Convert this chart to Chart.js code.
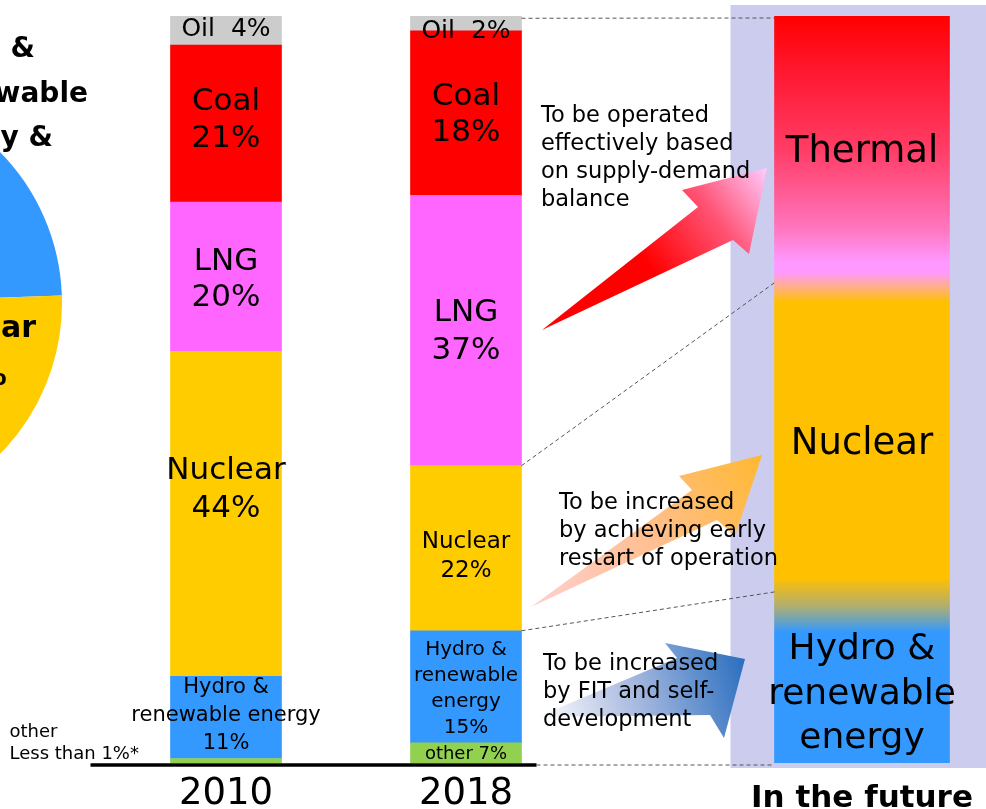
<!DOCTYPE html>
<html>
<head>
<meta charset="utf-8">
<script src="https://cdn.jsdelivr.net/npm/chart.js@4"></script>
<style>
  html, body { margin: 0; padding: 0; background: #fff; overflow: hidden; }
  #wrap { position: relative; width: 986px; height: 809px; overflow: hidden; }
  #mix { position: absolute; left: 0; top: 0; }
  #pie { position: absolute; left: -368px; top: 88px; }
</style>
</head>
<body>
<div id="wrap">
  <canvas id="mix" width="986" height="809"></canvas>
  <canvas id="pie" width="430" height="430"></canvas>
</div>
<script>
// ---- data ----
const categories = ['2010', '2018', 'In the future'];
const sources = ['other', 'Hydro & renewable energy', 'Nuclear', 'LNG', 'Coal', 'Oil'];
// share of each bar as drawn (bottom to top)
const share2010 = [0.6, 11.0, 43.5, 20.0, 21.0, 3.9];
const share2018 = [2.7, 15.0, 22.1, 36.2, 22.0, 2.1];
// percentages printed on the segments
const printed2010 = ['Less than 1', 11, 44, 20, 21, 4];
const printed2018 = [7, 15, 22, 37, 18, 2];
const futureSources = ['Hydro & renewable energy', 'Nuclear', 'Thermal'];
const futureShare = [22.9, 41.4, 35.7];
const pieLabels = ['Hydro & renewable energy', 'Nuclear', 'Thermal'];
const pieValues = [24, 22, 54];

// ---- look ----
const FONT = "'DejaVu Sans', Verdana, sans-serif";
const colors = ['#92d050', '#3399ff', '#ffcc00', '#ff66ff', '#ff0000', '#cccccc'];
const slotX = [0, 1, 2.65];

const lines2010 = [
  null,
  ['Hydro &', 'renewable energy', printed2010[1] + '%'],
  ['Nuclear', printed2010[2] + '%'],
  ['LNG', printed2010[3] + '%'],
  ['Coal', printed2010[4] + '%'],
  ['Oil  ' + printed2010[5] + '%']
];
const lines2018 = [
  ['other ' + printed2018[0] + '%'],
  ['Hydro &', 'renewable', 'energy', printed2018[1] + '%'],
  ['Nuclear', printed2018[2] + '%'],
  ['LNG', printed2018[3] + '%'],
  ['Coal', printed2018[4] + '%'],
  ['Oil  ' + printed2018[5] + '%']
];
// [font size, line height, y shift]
const fmt2010 = [null, [21, 28, -2], [31, 38, -24], [31, 36, 3], [31, 37, -3], [25, 25, -1]];
const fmt2018 = [[18, 20, 1], [20, 25.7, 2], [23, 29, 8], [31, 38, 1], [31, 36, 2], [25, 25, 8]];
const futureLines = [['Hydro &', 'renewable', 'energy'], ['Nuclear'], ['Thermal']];
const futureFmt = [[36, 44.5, 17], [37, 37, 7], [37, 37, 3]];

let futureGrad = null;
function futureFill(c) {
  const chart = c.chart;
  if (!chart.chartArea) return '#ffc000';
  if (!futureGrad) {
    const y = chart.scales.y;
    const g = chart.ctx.createLinearGradient(0, y.getPixelForValue(100), 0, y.getPixelForValue(0));
    g.addColorStop(0, '#ff0000');
    g.addColorStop(0.08, '#ff1a33');
    g.addColorStop(0.18, '#ff3d66');
    g.addColorStop(0.286, '#ff77c0');
    g.addColorStop(0.33, '#ff99ff');
    g.addColorStop(0.343, '#ff99ff');
    g.addColorStop(0.364, '#ffb080');
    g.addColorStop(0.383, '#ffc000');
    g.addColorStop(0.752, '#ffc000');
    g.addColorStop(0.79, '#b0ae70');
    g.addColorStop(0.825, '#3399ff');
    g.addColorStop(1, '#3399ff');
    futureGrad = g;
  }
  return futureGrad;
}

const datasets = sources.map((s, i) => ({
  label: s,
  data: [{ x: slotX[0], y: share2010[i] }, { x: slotX[1], y: share2018[i] }],
  backgroundColor: colors[i],
  borderWidth: 0,
  barThickness: 111,
  textLines: [lines2010[i], lines2018[i]],
  textFmt: [fmt2010[i], fmt2018[i]]
}));
futureSources.forEach((s, i) => {
  datasets.push({
    label: s,
    data: [{ x: slotX[2], y: futureShare[i] }],
    backgroundColor: futureFill,
    borderWidth: 0,
    barThickness: 175,
    textLines: [futureLines[i]],
    textFmt: [futureFmt[i]]
  });
});

function arrow(ctx, pts, stops) {
  const g = ctx.createLinearGradient(pts[0][0], pts[0][1], pts[3][0], pts[3][1]);
  stops.forEach(s => g.addColorStop(s[0], s[1]));
  ctx.beginPath();
  pts.forEach((p, i) => i ? ctx.lineTo(p[0], p[1]) : ctx.moveTo(p[0], p[1]));
  ctx.closePath();
  ctx.fillStyle = g;
  ctx.fill();
}

function textBlock(ctx, lines, x, y, lh) {
  lines.forEach((t, k) => ctx.fillText(t, x, y + k * lh));
}

const decorPlugin = {
  id: 'decor',
  beforeDatasetsDraw(chart) {
    const ctx = chart.ctx;
    const fut = chart.getDatasetMeta(6).data[0];
    ctx.save();
    ctx.fillStyle = '#ccccee';
    ctx.fillRect(fut.x - fut.width / 2 - 44, 5, chart.width, 763);
    ctx.restore();
  },
  afterDatasetsDraw(chart) {
    const ctx = chart.ctx;
    const area = chart.chartArea;
    const bar = (d, i) => chart.getDatasetMeta(d).data[i];
    const b2010 = bar(0, 0), b2018 = bar(0, 1), fut = bar(6, 0);
    const r18 = b2018.x + b2018.width / 2;
    const lf = fut.x - fut.width / 2;
    const baseY = area.bottom + 2;
    const baseEnd = r18 + 15;

    ctx.save();
    // dashed guides from 2018 to the future bar
    ctx.strokeStyle = '#555';
    ctx.lineWidth = 1;
    ctx.setLineDash([4, 3]);
    const guide = (x1, y1, x2, y2) => { ctx.beginPath(); ctx.moveTo(x1, y1); ctx.lineTo(x2, y2); ctx.stroke(); };
    guide(r18, bar(5, 1).y + 3, lf, bar(8, 0).y + 2);
    guide(r18, bar(3, 1).base, lf, bar(8, 0).base);
    guide(r18, bar(2, 1).base, lf, bar(7, 0).base);
    guide(baseEnd, baseY, lf, baseY);
    ctx.setLineDash([]);

    // base line
    ctx.strokeStyle = '#000';
    ctx.lineWidth = 3.5;
    ctx.beginPath();
    ctx.moveTo(b2010.x - b2010.width / 2 - 80, baseY);
    ctx.lineTo(baseEnd, baseY);
    ctx.stroke();

    // arrows
    arrow(ctx, [[542, 330], [698, 207], [682, 190], [767, 168], [749, 254], [733, 240]],
      [[0, '#ff0000'], [0.45, '#ff0000'], [0.75, '#ff5577'], [1, '#ffccff']]);
    arrow(ctx, [[531, 607], [692, 490], [679, 476], [762, 455], [735, 536], [717, 520]],
      [[0, '#ffd0d0'], [0.5, '#ffbf90'], [1, '#ffb830']]);
    arrow(ctx, [[537, 717], [677, 658], [665, 643], [745, 659], [724, 738], [710, 715]],
      [[0, '#ffffff'], [0.45, '#aabbe0'], [1, '#2a6ebf']]);

    // segment labels
    ctx.fillStyle = '#000';
    ctx.textAlign = 'center';
    ctx.textBaseline = 'middle';
    chart.data.datasets.forEach((ds, di) => {
      chart.getDatasetMeta(di).data.forEach((el, i) => {
        const lines = ds.textLines[i];
        if (!lines) return;
        const [size, lh, dy] = ds.textFmt[i];
        ctx.font = size + 'px ' + FONT;
        const mid = (el.y + el.base) / 2 + dy;
        textBlock(ctx, lines, el.x, mid - (lines.length - 1) * lh / 2, lh);
      });
    });

    // note for the tiny 2010 "other" segment
    ctx.textAlign = 'left';
    ctx.font = '18px ' + FONT;
    textBlock(ctx, ['other', printed2010[0] + '%*'], b2010.x - b2010.width / 2 - 161, 732, 22);

    // arrow captions
    ctx.font = '22.5px ' + FONT;
    textBlock(ctx, ['To be operated', 'effectively based', 'on supply-demand', 'balance'], 541, 116, 28);
    textBlock(ctx, ['To be increased', 'by achieving early', 'restart of operation'], 559, 503, 28);
    textBlock(ctx, ['To be increased', 'by FIT and self-', 'development'], 543, 664, 28);

    // labels of the cropped pie on the left
    ctx.textAlign = 'right';
    ctx.textBaseline = 'alphabetic';
    ctx.font = 'bold 28px ' + FONT;
    ctx.fillText('Hydro &', 35, 57);
    ctx.fillText('renewable', 88, 102);
    ctx.fillText('energy &', 53, 146);
    ctx.restore();
  }
};

new Chart(document.getElementById('mix'), {
  type: 'bar',
  data: { datasets: datasets },
  options: {
    responsive: false,
    animation: false,
    layout: { padding: { top: 16, left: 0, right: 0, bottom: 0 } },
    plugins: { legend: { display: false }, tooltip: { enabled: false } },
    scales: {
      x: {
        type: 'linear',
        stacked: true,
        offset: false,
        min: -226 / 240,
        max: -226 / 240 + 986 / 240,
        grid: { display: false, drawTicks: false },
        border: { display: false },
        afterBuildTicks: (scale) => { scale.ticks = slotX.map(v => ({ value: v })); },
        afterFit: (scale) => { scale.height = 46; },
        ticks: {
          autoSkip: false,
          maxRotation: 0,
          padding: 7,
          color: '#000',
          callback: (v, i) => categories[i],
          font: (c) => c.index === 2
            ? { family: FONT, size: 31, weight: 'bold', lineHeight: 1.87 }
            : { family: FONT, size: 37, lineHeight: 1.3 }
        }
      },
      y: { stacked: true, min: 0, max: 100, display: false }
    }
  },
  plugins: [decorPlugin]
});

const pieText = {
  id: 'pieText',
  afterDraw(chart) {
    const arc = chart.getDatasetMeta(0).data[0];
    const ctx = chart.ctx;
    ctx.save();
    ctx.fillStyle = '#000';
    ctx.font = 'bold 30px ' + FONT;
    ctx.textAlign = 'center';
    ctx.fillText('Nuclear', arc.x + 124, arc.y + 34);
    ctx.fillText('20%', arc.x + 124, arc.y + 82);
    ctx.restore();
  }
};

new Chart(document.getElementById('pie'), {
  type: 'pie',
  data: {
    labels: pieLabels,
    datasets: [{ data: pieValues, backgroundColor: ['#3399ff', '#ffcc00', '#ff66ff'], borderWidth: 0 }]
  },
  options: {
    responsive: false,
    animation: false,
    rotation: 1.6,
    layout: { padding: 0 },
    plugins: { legend: { display: false }, tooltip: { enabled: false } }
  },
  plugins: [pieText]
});
</script>
</body>
</html>
